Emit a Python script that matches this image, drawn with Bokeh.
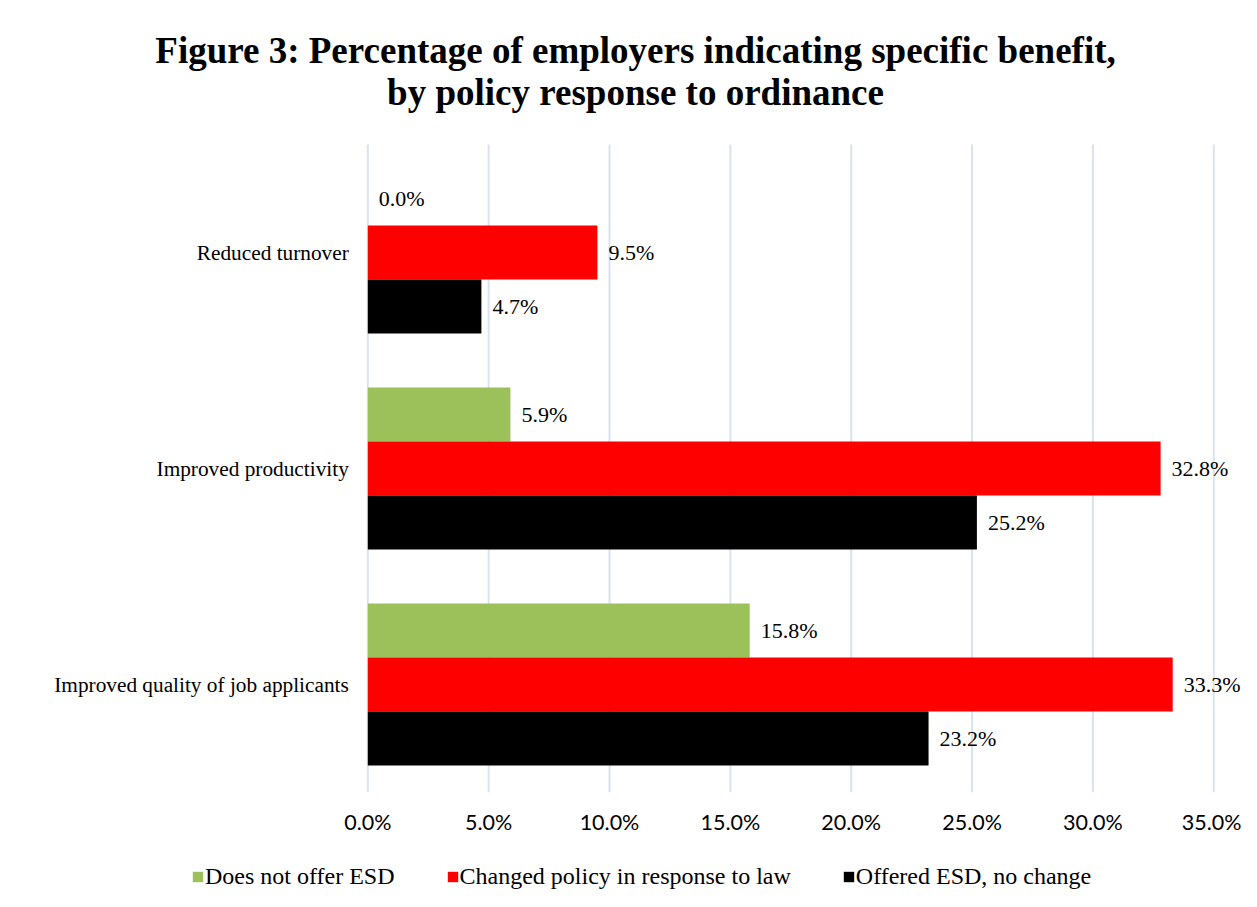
from bokeh.plotting import figure
from bokeh.layouts import column
from bokeh.models import (Range1d, ColumnDataSource, LabelSet, Label,
                          Legend, LegendItem, FixedTicker, PrintfTickFormatter)
from bokeh.core.properties import value
from bokeh.embed import file_html
from bokeh.resources import INLINE

# ---------------- data ----------------
categories = ["Improved quality of job applicants", "Improved productivity", "Reduced turnover"]
does_not_offer = [15.8, 5.9, 0.0]
changed_policy = [33.3, 32.8, 9.5]
offered_no_change = [23.2, 25.2, 4.7]
series_names = ["Does not offer ESD", "Changed policy in response to law", "Offered ESD, no change"]
series_colors = ["#9CC05A", "#FF0000", "#000000"]
x_ticks = [0, 5, 10, 15, 20, 25, 30, 35]
title_lines = ["Figure 3: Percentage of employers indicating specific benefit,",
               "by policy response to ordinance"]

SERIF = "Liberation Serif"
GRID = "#D9E3F0"
W = 1241

# ---------------- main chart ----------------
cat_pos = list(range(len(categories)))
p = figure(width=W, height=842, output_backend="svg", toolbar_location=None,
           x_range=Range1d(-15.196, 36.147), y_range=Range1d(-0.5, 3.1667),
           min_border_left=0, min_border_right=0, min_border_top=0, min_border_bottom=50)
p.outline_line_color = None
p.background_fill_color = "white"
p.border_fill_color = "white"
p.yaxis.visible = False
p.xgrid.grid_line_color = None
p.ygrid.grid_line_color = None

# vertical gridlines only over the category band
p.segment(x0=x_ticks, x1=x_ticks, y0=-0.5, y1=2.5, line_color=GRID, line_width=2)

offsets = [0.25, 0.0, -0.25]
series_vals = [does_not_offer, changed_policy, offered_no_change]
for vals, col, off in zip(series_vals, series_colors, offsets):
    src = ColumnDataSource(dict(y=[c + off for c in cat_pos], val=vals,
                                txt=["%.1f%%" % v for v in vals]))
    p.hbar(y="y", right="val", left=0, height=0.25, source=src,
           fill_color=col, line_color=None)
    p.add_layout(LabelSet(x="val", y="y", text="txt", source=src, x_offset=11,
                          text_baseline="middle", text_font=value(SERIF),
                          text_font_size="22px", text_color="#000000"))

# category labels
cat_src = ColumnDataSource(dict(y=cat_pos, x=[0] * len(categories), txt=categories))
p.add_layout(LabelSet(x="x", y="y", text="txt", source=cat_src, x_offset=-19,
                      text_align="right", text_baseline="middle", text_font=value(SERIF),
                      text_font_size="21.3px", text_color="#000000"))

# x axis
p.xaxis.ticker = FixedTicker(ticks=x_ticks)
p.xaxis.formatter = PrintfTickFormatter(format="%.1f%%")
p.xaxis.axis_line_color = None
p.xaxis.major_tick_line_color = None
p.xaxis.minor_tick_line_color = None
p.xaxis.major_label_standoff = 10
p.xaxis.major_label_text_font = "Lato"
p.xaxis.major_label_text_font_size = "21.5px"
p.xaxis.major_label_text_color = "#000000"

# title
for txt, yy in zip(title_lines, [2.9375, 2.743]):
    p.add_layout(Label(x=11.076, y=yy, text=txt, text_align="center",
                       text_baseline="middle", text_font=SERIF,
                       text_font_style="bold", text_font_size="37px",
                       text_color="#000000"))

# ---------------- legend strip ----------------
q = figure(width=W, height=49, output_backend="svg", toolbar_location=None,
           x_range=Range1d(0, W), y_range=Range1d(0, 49),
           x_axis_type=None, y_axis_type=None,
           min_border_left=0, min_border_right=0, min_border_top=0, min_border_bottom=0)
q.outline_line_color = None
q.xgrid.grid_line_color = None
q.ygrid.grid_line_color = None
items = []
for name, col in zip(series_names, series_colors):
    # zero-width placeholder bar, used only for the legend swatch
    r = q.hbar(y=[0], right=[0], left=[0], height=1, fill_color=col, line_color=None)
    items.append(LegendItem(label=name, renderers=[r]))
legend = Legend(items=items, orientation="horizontal", location=(191, 1),
                glyph_width=13, glyph_height=13, label_standoff=1, spacing=51,
                padding=0, margin=0, border_line_color=None, background_fill_alpha=0,
                label_text_font=SERIF, label_text_font_size="24px",
                label_text_color="#000000", label_text_baseline="middle")
q.add_layout(legend, "center")

layout = column(p, q, spacing=0)
open("out.html", "w").write(file_html(layout, INLINE))
